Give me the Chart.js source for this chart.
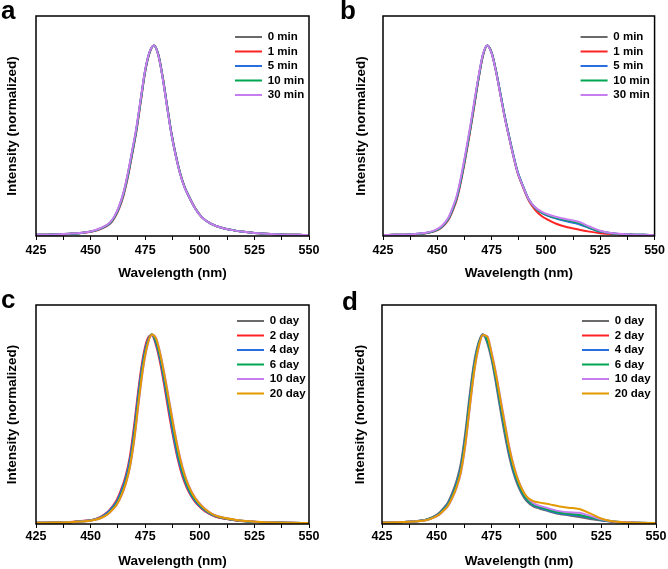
<!DOCTYPE html>
<html>
<head>
<meta charset="utf-8">
<script src="https://cdn.jsdelivr.net/npm/chart.js@4.4.1/dist/chart.umd.min.js"></script>
<style>
html, body { margin: 0; padding: 0; background: #fff; }
#wrap { position: relative; width: 668px; height: 569px; overflow: hidden; }
#wrap canvas { position: absolute; }
</style>
</head>
<body>
<div id="wrap">
  <canvas id="panelA" width="334" height="285" style="left:0;top:0"></canvas>
  <canvas id="panelB" width="334" height="285" style="left:334px;top:0"></canvas>
  <canvas id="panelC" width="334" height="284" style="left:0;top:285px"></canvas>
  <canvas id="panelD" width="334" height="284" style="left:334px;top:285px"></canvas>
</div>
<script>
// legend labels
var minLabels = ['0 min', '1 min', '5 min', '10 min', '30 min'];
var dayLabels = ['0 day', '2 day', '4 day', '6 day', '10 day', '20 day'];
var xTicks = [425, 450, 475, 500, 525, 550];

// panel a: wavelength (nm) and normalized intensity
var wlA = [425,430,435,440,445,450,453,456,459,461,463,465,467,469,471,473,475,477,479,481,483,485,487,489,491,493,495,498,501,505,510,515,520,525,530,535,540,545,550];
var a0min  = [0.003,0.004,0.006,0.009,0.013,0.021,0.03,0.045,0.068,0.1,0.15,0.22,0.32,0.44,0.565,0.72,0.87,0.965,1.0,0.95,0.83,0.68,0.535,0.42,0.325,0.255,0.205,0.14,0.095,0.062,0.04,0.028,0.019,0.013,0.009,0.006,0.004,0.003,0.002];
var a1min  = [0.003,0.004,0.005,0.008,0.012,0.019,0.027,0.041,0.062,0.093,0.14,0.207,0.303,0.423,0.55,0.707,0.862,0.96,1.0,0.953,0.835,0.686,0.54,0.425,0.328,0.257,0.206,0.141,0.095,0.062,0.04,0.028,0.019,0.013,0.009,0.006,0.004,0.003,0.002];
var a5min  = [0.003,0.004,0.006,0.008,0.012,0.02,0.029,0.043,0.065,0.097,0.145,0.214,0.311,0.431,0.557,0.713,0.866,0.963,1.0,0.952,0.833,0.684,0.538,0.423,0.327,0.256,0.206,0.14,0.095,0.062,0.04,0.028,0.019,0.013,0.009,0.006,0.004,0.003,0.002];
var a10min = [0.003,0.004,0.006,0.009,0.012,0.02,0.029,0.044,0.066,0.098,0.147,0.216,0.314,0.434,0.56,0.716,0.868,0.964,1.0,0.951,0.831,0.682,0.536,0.421,0.326,0.255,0.205,0.14,0.095,0.062,0.04,0.028,0.019,0.013,0.009,0.006,0.004,0.003,0.002];
var a30min = [0.003,0.004,0.006,0.009,0.013,0.021,0.031,0.046,0.07,0.103,0.153,0.224,0.325,0.445,0.57,0.724,0.873,0.967,1.0,0.948,0.827,0.677,0.532,0.418,0.323,0.253,0.204,0.139,0.094,0.062,0.04,0.028,0.019,0.013,0.009,0.006,0.004,0.003,0.002];

// panel b
var wlB = [425,430,435,440,443,446,449,452,455,457,459,461,463,465,467,469,471,473,475,477,479,481,483,485,487,489,492,495,498,501,505,510,515,520,525,530,535,540,545,550];
var b0min  = [0.002,0.003,0.004,0.007,0.01,0.015,0.025,0.045,0.085,0.135,0.2,0.3,0.42,0.55,0.69,0.83,0.95,1.0,0.96,0.865,0.745,0.625,0.52,0.42,0.33,0.27,0.19,0.145,0.12,0.104,0.09,0.076,0.062,0.04,0.021,0.011,0.006,0.004,0.003,0.002];
var b1min  = [0.002,0.003,0.004,0.006,0.009,0.014,0.023,0.042,0.08,0.128,0.19,0.29,0.41,0.54,0.68,0.825,0.945,1.0,0.962,0.866,0.746,0.626,0.52,0.418,0.328,0.266,0.185,0.135,0.102,0.082,0.06,0.043,0.031,0.02,0.012,0.007,0.004,0.003,0.002,0.002];
var b5min  = [0.002,0.003,0.004,0.007,0.01,0.015,0.025,0.045,0.085,0.135,0.2,0.3,0.42,0.55,0.69,0.83,0.95,1.0,0.962,0.868,0.75,0.63,0.525,0.425,0.335,0.273,0.192,0.146,0.12,0.103,0.088,0.073,0.06,0.039,0.02,0.011,0.006,0.004,0.003,0.002];
var b10min = [0.002,0.003,0.004,0.007,0.01,0.015,0.025,0.046,0.086,0.137,0.202,0.302,0.422,0.552,0.692,0.832,0.951,1.0,0.961,0.866,0.747,0.627,0.522,0.422,0.332,0.271,0.191,0.146,0.121,0.106,0.092,0.079,0.067,0.042,0.022,0.012,0.006,0.004,0.003,0.002];
var b30min = [0.002,0.003,0.005,0.008,0.011,0.017,0.028,0.05,0.092,0.145,0.212,0.315,0.435,0.565,0.705,0.84,0.955,1.0,0.958,0.862,0.742,0.622,0.518,0.418,0.33,0.27,0.192,0.148,0.125,0.11,0.097,0.084,0.072,0.047,0.025,0.013,0.007,0.004,0.003,0.002];

// panel c
var wlC = [425,434,442,448,452,455,458,460,462,464,466,468,470,472,474,476,478,480,482,484,486,488,490,492,494,496,498,501,504,507,511,516,521,526,533,540,550];
var c0day  = [0.003,0.005,0.008,0.013,0.02,0.033,0.055,0.08,0.11,0.16,0.225,0.32,0.48,0.68,0.85,0.955,1.0,0.955,0.865,0.74,0.6,0.47,0.355,0.265,0.2,0.152,0.118,0.08,0.055,0.038,0.026,0.017,0.011,0.008,0.005,0.003,0.002];
var c2day  = [0.003,0.005,0.009,0.015,0.023,0.038,0.063,0.09,0.125,0.18,0.25,0.355,0.525,0.72,0.88,0.975,0.995,0.94,0.84,0.71,0.57,0.445,0.335,0.25,0.19,0.145,0.112,0.077,0.053,0.037,0.026,0.017,0.011,0.008,0.005,0.003,0.002];
var c4day  = [0.003,0.005,0.008,0.014,0.022,0.036,0.06,0.086,0.118,0.17,0.238,0.338,0.5,0.7,0.865,0.963,0.998,0.95,0.855,0.73,0.59,0.46,0.348,0.262,0.198,0.15,0.117,0.08,0.056,0.039,0.027,0.018,0.012,0.008,0.005,0.003,0.002];
var c6day  = [0.003,0.005,0.008,0.013,0.02,0.032,0.053,0.077,0.106,0.154,0.218,0.31,0.465,0.665,0.84,0.95,1.0,0.962,0.875,0.755,0.62,0.49,0.372,0.28,0.21,0.16,0.124,0.085,0.059,0.041,0.028,0.018,0.012,0.008,0.005,0.003,0.002];
var c10day = [0.003,0.005,0.008,0.012,0.019,0.03,0.05,0.072,0.099,0.143,0.205,0.295,0.44,0.635,0.815,0.94,0.998,0.98,0.895,0.78,0.65,0.52,0.4,0.302,0.228,0.174,0.134,0.092,0.063,0.044,0.03,0.02,0.013,0.009,0.005,0.003,0.002];
var c20day = [0.003,0.005,0.008,0.012,0.019,0.03,0.05,0.073,0.1,0.146,0.208,0.3,0.448,0.645,0.822,0.943,0.999,0.976,0.89,0.772,0.64,0.51,0.392,0.296,0.224,0.17,0.131,0.09,0.062,0.043,0.03,0.02,0.013,0.009,0.005,0.003,0.002];

// panel d
var wlD = [425,435,441,445,448,451,453,455,457,459,461,463,465,467,469,471,473,475,477,479,481,483,485,487,489,491,494,497,500,503,506,510,515,520,525,530,535,540,550];
var d0day  = [0.004,0.008,0.013,0.02,0.033,0.055,0.08,0.11,0.16,0.225,0.32,0.48,0.68,0.85,0.955,1.0,0.955,0.865,0.74,0.6,0.47,0.355,0.265,0.2,0.152,0.118,0.09,0.078,0.068,0.058,0.05,0.043,0.034,0.024,0.015,0.009,0.005,0.004,0.002];
var d2day  = [0.004,0.007,0.012,0.018,0.03,0.049,0.072,0.099,0.145,0.205,0.29,0.443,0.643,0.825,0.942,0.998,0.968,0.884,0.766,0.63,0.5,0.38,0.285,0.215,0.164,0.127,0.097,0.084,0.074,0.064,0.056,0.049,0.042,0.03,0.018,0.01,0.006,0.004,0.002];
var d4day  = [0.004,0.008,0.012,0.019,0.031,0.051,0.075,0.103,0.15,0.212,0.3,0.455,0.655,0.835,0.947,0.999,0.962,0.878,0.757,0.62,0.49,0.372,0.278,0.21,0.16,0.124,0.095,0.082,0.072,0.062,0.054,0.047,0.04,0.029,0.017,0.01,0.006,0.004,0.002];
var d6day  = [0.004,0.007,0.012,0.018,0.03,0.048,0.071,0.097,0.142,0.202,0.286,0.437,0.637,0.82,0.94,0.997,0.97,0.887,0.77,0.635,0.505,0.385,0.289,0.218,0.166,0.129,0.099,0.086,0.076,0.066,0.058,0.051,0.045,0.032,0.019,0.011,0.006,0.004,0.002];
var d10day = [0.004,0.007,0.011,0.017,0.028,0.045,0.066,0.09,0.132,0.188,0.268,0.41,0.605,0.795,0.925,0.995,0.99,0.905,0.795,0.665,0.535,0.41,0.31,0.235,0.18,0.14,0.107,0.093,0.083,0.073,0.065,0.059,0.056,0.04,0.022,0.012,0.007,0.004,0.002];
var d20day = [0.004,0.007,0.011,0.017,0.028,0.046,0.067,0.092,0.135,0.192,0.274,0.418,0.615,0.802,0.93,0.996,0.988,0.898,0.786,0.655,0.525,0.402,0.305,0.232,0.178,0.142,0.118,0.11,0.104,0.097,0.09,0.083,0.076,0.053,0.026,0.012,0.006,0.004,0.002];

var seriesColors = ['#6a6a6a', '#ff2424', '#2a6fe0', '#00a651', '#c77cf0', '#e39a00'];
var fontFamily = "'Liberation Sans', Arial, sans-serif";

Chart.defaults.font.family = fontFamily;
Chart.defaults.font.weight = 'bold';
Chart.defaults.color = '#000';

function makeChart(id, p) {
  var n = p.series.length;
  var datasets = p.series.map(function (s, i) {
    return {
      label: p.labels[i],
      data: p.wl.map(function (w, j) { return { x: w, y: s[j] }; }),
      borderColor: seriesColors[i],
      backgroundColor: seriesColors[i],
      borderWidth: 2,
      pointRadius: 0,
      cubicInterpolationMode: 'monotone',
      order: n - i   // later series drawn on top
    };
  });

  var decor = {
    id: 'decor',
    afterLayout: function (chart) {
      // put the legend box in the upper right of the plot
      var lg = chart.legend, ca = chart.chartArea;
      lg.left = ca.right - p.legendDx - 3;
      lg.top = ca.top + p.legendDy - 11.5 / 2 - 3;
      lg.right = chart.width;
      lg.bottom = ca.bottom;
    },
    afterDraw: function (chart) {
      var ctx = chart.ctx, ca = chart.chartArea;
      ctx.save();
      ctx.strokeStyle = '#000';
      ctx.lineWidth = 1.5;
      ctx.strokeRect(ca.left, ca.top, ca.right - ca.left, ca.bottom - ca.top);
      ctx.fillStyle = '#000';
      ctx.font = 'bold 26px ' + fontFamily;
      ctx.textBaseline = 'alphabetic';
      ctx.fillText(p.letter, p.lx, p.ly);
      ctx.restore();
    }
  };

  return new Chart(document.getElementById(id), {
    type: 'line',
    data: { datasets: datasets },
    options: {
      responsive: false,
      animation: false,
      events: [],
      layout: { padding: p.pad },
      scales: {
        x: {
          type: 'linear',
          min: 425,
          max: 550,
          ticks: {
            stepSize: 12.5,
            autoSkip: false,
            maxRotation: 0,
            padding: p.tickPad,
            color: '#000',
            font: { size: 12.5, weight: 'bold' },
            callback: function (v) { return xTicks.indexOf(v) >= 0 ? String(v) : ''; }
          },
          grid: { drawOnChartArea: false, tickLength: 4, color: '#000', lineWidth: 1 },
          border: { display: false },
          title: {
            display: true,
            text: 'Wavelength (nm)',
            color: '#000',
            font: { size: 13.5, weight: 'bold' },
            padding: { top: 0, bottom: p.titlePad }
          },
          afterFit: function (s) { s.height = p.xh; }
        },
        y: {
          min: -0.003,
          max: 1.155,
          ticks: { display: false },
          grid: { display: false },
          border: { display: false },
          title: {
            display: true,
            text: 'Intensity (normalized)',
            color: '#000',
            font: { size: 13.5, weight: 'bold' },
            padding: { top: 4, bottom: 0 }
          },
          afterFit: function (s) { s.width = p.yw; }
        }
      },
      plugins: {
        legend: {
          position: 'chartArea',
          align: 'start',
          labels: {
            usePointStyle: true,
            pointStyle: 'line',
            pointStyleWidth: 27,
            padding: 3,
            color: '#000',
            font: { size: 11.5, weight: 'bold' },
            sort: function (a, b) { return a.datasetIndex - b.datasetIndex; }
          }
        },
        tooltip: { enabled: false }
      }
    },
    plugins: [decor]
  });
}

makeChart('panelA', {
  wl: wlA, labels: minLabels, series: [a0min, a1min, a5min, a10min, a30min],
  pad: { left: 0, top: 16, right: 25, bottom: 0 }, yw: 36, xh: 49, tickPad: 3, titlePad: 4,
  legendDx: 74, legendDy: 21, letter: 'a', lx: 1, ly: 19
});
makeChart('panelB', {
  wl: wlB, labels: minLabels, series: [b0min, b1min, b5min, b10min, b30min],
  pad: { left: 15, top: 16, right: 12, bottom: 0 }, yw: 34, xh: 49, tickPad: 3, titlePad: 4,
  legendDx: 74, legendDy: 21, letter: 'b', lx: 6, ly: 19
});
makeChart('panelC', {
  wl: wlC, labels: dayLabels, series: [c0day, c2day, c4day, c6day, c10day, c20day],
  pad: { left: 0, top: 20, right: 25, bottom: 0 }, yw: 36, xh: 45, tickPad: 1, titlePad: 0,
  legendDx: 72, legendDy: 16, letter: 'c', lx: 1, ly: 23
});
makeChart('panelD', {
  wl: wlD, labels: dayLabels, series: [d0day, d2day, d4day, d6day, d10day, d20day],
  pad: { left: 14, top: 20, right: 12, bottom: 0 }, yw: 34, xh: 45, tickPad: 1, titlePad: 0,
  legendDx: 74, legendDy: 16, letter: 'd', lx: 8, ly: 25
});
</script>
</body>
</html>
